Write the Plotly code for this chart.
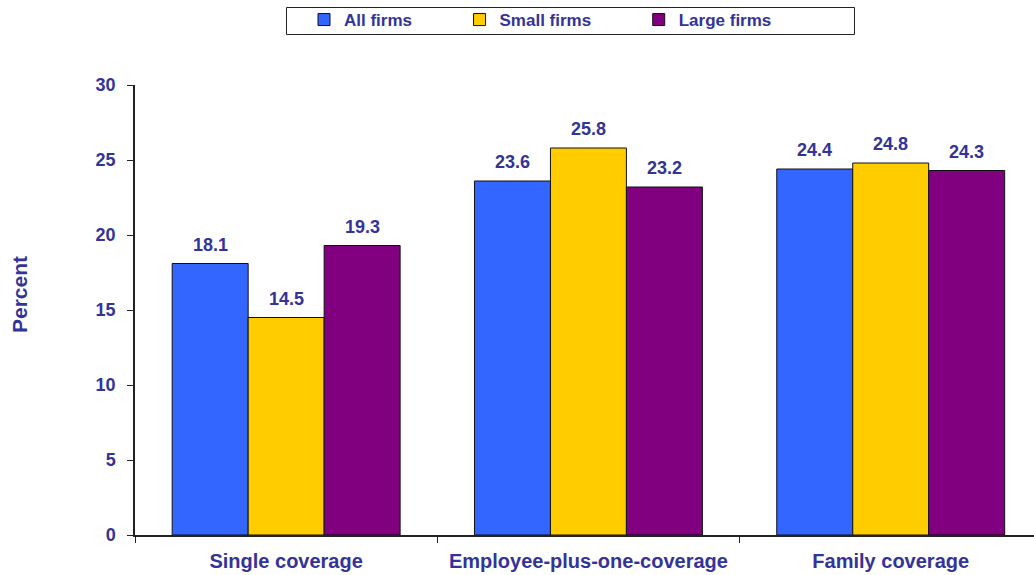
import plotly.graph_objects as go

categories = ["Single coverage", "Employee-plus-one-coverage", "Family coverage"]
series_names = ["All firms", "Small firms", "Large firms"]
all_firms = [18.1, 23.6, 24.4]
small_firms = [14.5, 25.8, 24.8]
large_firms = [19.3, 23.2, 24.3]
colors = ["#3366FF", "#FFCC00", "#800080"]
y_ticks = [0, 5, 10, 15, 20, 25, 30]

TXT = "#333399"
FONT = "Liberation Sans, Arial, sans-serif"

fig = go.Figure()
series = [all_firms, small_firms, large_firms]
pad = "\u00a0" * 9
for name, vals, col in zip(series_names, series, colors):
    fig.add_trace(go.Bar(
        x=categories, y=vals, name=name + pad,
        marker=dict(color=col, line=dict(color="#111111", width=1)),
    ))

# data labels
offsets = [-76, 0, 76]
for vals, off in zip(series, offsets):
    for c, v in zip(categories, vals):
        fig.add_annotation(
            x=c, y=v, text=f"{v:.1f}", showarrow=False,
            xshift=off, yshift=7, yanchor="bottom",
            font=dict(family=FONT, size=18, color=TXT, weight="bold"),
        )

# y-axis title
fig.add_annotation(
    xref="paper", yref="paper", x=(19 - 135) / 899, y=(535 - 295) / 450,
    text="Percent", textangle=-90, showarrow=False,
    xanchor="center", yanchor="middle",
    font=dict(family=FONT, size=21, color=TXT, weight="bold"),
)

# legend box
fig.add_shape(type="rect", xref="paper", yref="paper",
              x0=(286.5 - 135) / 899, x1=(854.5 - 135) / 899,
              y0=(535 - 34.5) / 450, y1=(535 - 7.5) / 450,
              line=dict(color="#222222", width=1), fillcolor="rgba(0,0,0,0)")

fig.update_layout(
    width=1034, height=575,
    margin=dict(l=135, r=0, t=85, b=40),
    paper_bgcolor="white", plot_bgcolor="white",
    barmode="group", bargap=0.246, bargroupgap=0,
    font=dict(family=FONT, color=TXT, size=18, weight="bold"),
    showlegend=True,
    legend=dict(orientation="h", x=(304 - 135) / 899, xanchor="left",
                y=(535 - 20) / 450, yanchor="middle",
                font=dict(family=FONT, size=17, color=TXT, weight="bold"),
                bgcolor="rgba(0,0,0,0)", borderwidth=0, traceorder="normal"),
    xaxis=dict(
        range=[-0.5, 2.474], showline=True, linecolor="#222222", linewidth=1.5,
        ticks="outside", tickson="boundaries", ticklen=6, tickcolor="#222222",
        tickfont=dict(family=FONT, size=20, color=TXT, weight="bold"),
        showgrid=False, zeroline=False, ticklabelstandoff=7,
    ),
    yaxis=dict(
        range=[0, 30], tickvals=y_ticks, showline=True, linecolor="#222222",
        linewidth=1.5, ticks="outside", ticklen=6, tickcolor="#222222",
        tickfont=dict(family=FONT, size=18, color=TXT, weight="bold"),
        showgrid=False, zeroline=False, ticklabelstandoff=8,
    ),
)

fig.write_html("out.html", config={"displayModeBar": False},
               post_script="document.body.style.margin='0px';")
